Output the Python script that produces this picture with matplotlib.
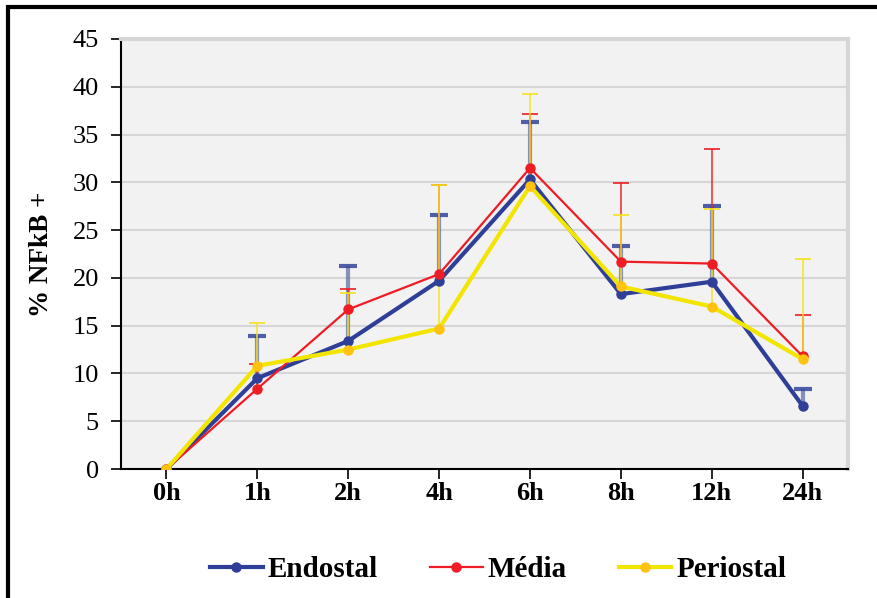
import matplotlib
matplotlib.use("Agg")
import matplotlib.pyplot as plt
from matplotlib.patches import Rectangle
import numpy as np

# Time points and group means (% NFkB positive cells)
timepoints = ["0h", "1h", "2h", "4h", "6h", "8h", "12h", "24h"]
endostal = [0.0, 9.5, 13.4, 19.7, 30.3, 18.3, 19.6, 6.6]
media = [0.0, 8.4, 16.7, 20.4, 31.5, 21.7, 21.5, 11.8]
periostal = [0.0, 10.8, 12.5, 14.7, 29.6, 19.1, 17.0, 11.5]

# Upper error bar tops
endostal_top = [0.0, 13.9, 21.2, 26.6, 36.3, 23.3, 27.5, 8.4]
media_top = [0.0, 11.0, 18.8, 29.7, 37.2, 29.9, 33.5, 16.1]
periostal_top = [0.0, 15.3, 18.4, 29.7, 39.2, 26.6, 27.2, 22.0]

plt.rcParams["font.family"] = ["Liberation Serif", "DejaVu Serif"]

fig = plt.figure(figsize=(8.77, 5.98), dpi=100)
ax = fig.add_axes([0.138, 0.2157, 0.829, 0.7191])

x = np.arange(len(timepoints))

series = [
    # name, values, tops, line colour, marker colour, bar colour, cap colour, lw, bar lw, cap size
    ("Endostal", endostal, endostal_top, "#2f3f98", "#2f3f98", "#6470a6", "#34449a", 3.0, 3.0, 13),
    ("Média", media, media_top, "#ee1c24", "#ee1c24", "#ee1c24", "#ee1c24", 1.6, 1.4, 11),
    ("Periostal", periostal, periostal_top, "#f2e600", "#ffc20e", "#f5e21c", "#f5e21c", 3.0, 1.4, 11),
]

# upper-only error bars, drawn under the lines
for name, vals, tops, lc, mc, ec, cc, lw, elw, cs in series:
    v = np.array(vals)
    t = np.array(tops)
    keep = t > v
    ax.vlines(x[keep], v[keep], t[keep], colors=ec, lw=elw, alpha=0.75, zorder=2)
    ax.plot(x[keep], t[keep], ls="none", marker="_", markersize=cs,
            markeredgewidth=elw, color=cc, alpha=0.85, zorder=2)

handles = []
for name, vals, tops, lc, mc, ec, cc, lw, elw, cs in series:
    h, = ax.plot(x, vals, color=lc, lw=lw, marker="o", markersize=6.5,
                 markerfacecolor=mc, markeredgecolor=mc, label=name, zorder=3)
    handles.append(h)

ax.set_xlim(-0.5, 7.5)
ax.set_ylim(0, 45)
ax.set_yticks(np.arange(0, 46, 5))
ax.set_xticks(x)
ax.set_xticklabels(timepoints, fontweight="bold", fontsize=19)
ax.tick_params(axis="y", labelsize=19, length=7, width=1.2, pad=9, direction="out")
ax.tick_params(axis="x", length=7, width=1.2, pad=2, direction="out")

ax.set_facecolor("#f2f2f2")
ax.grid(axis="y", color="#d6d6d6", lw=1.5)
ax.set_axisbelow(True)
for s in ["top", "right"]:
    ax.spines[s].set_color("#d6d6d6")
    ax.spines[s].set_linewidth(3)
for s in ["left", "bottom"]:
    ax.spines[s].set_color("black")
    ax.spines[s].set_linewidth(1.5)

ax.set_ylabel("% NFkB +", fontweight="bold", fontsize=19.5, labelpad=13)

fig.legend(handles=handles, loc="center", bbox_to_anchor=(0.568, 0.047), ncol=3,
           frameon=False, prop={"weight": "bold", "size": 21},
           handlelength=1.81, handletextpad=0.17, columnspacing=1.78)

# outer frame
fig.patches.append(Rectangle((8 / 877, -0.05), 1.2, 1 - 7 / 598 + 0.05,
                             transform=fig.transFigure, fill=False,
                             edgecolor="black", lw=3))

fig.savefig("out.png", dpi=100)
